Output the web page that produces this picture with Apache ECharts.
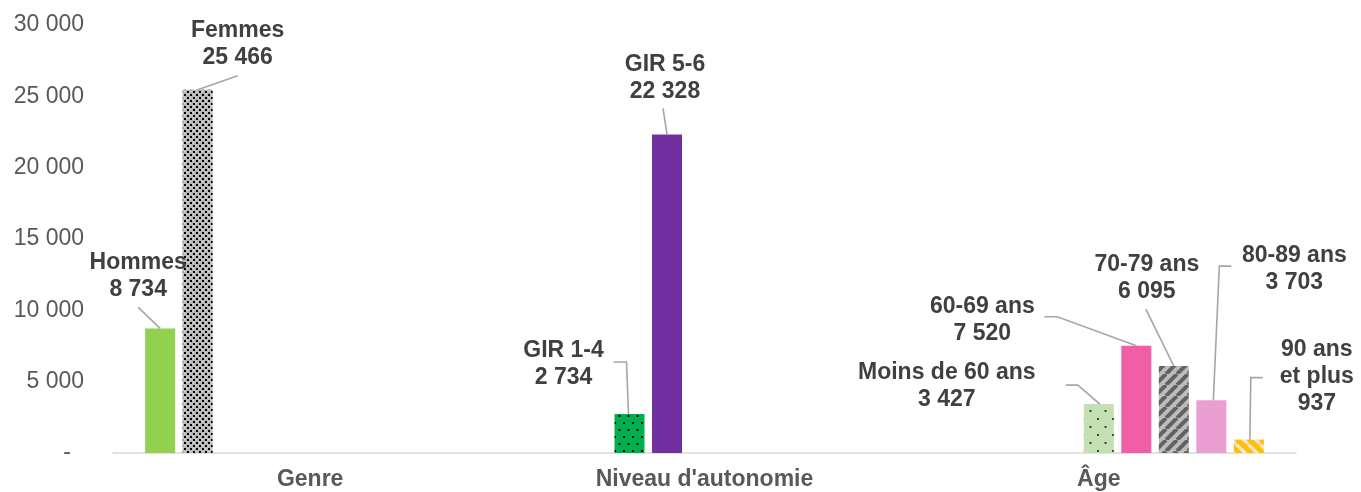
<!DOCTYPE html>
<html>
<head>
<meta charset="utf-8">
<script src="https://cdn.jsdelivr.net/npm/echarts@6/dist/echarts.min.js"></script>
<style>
  html, body { margin: 0; padding: 0; background: #ffffff; }
  #chart { width: 1361px; height: 492px; }
</style>
</head>
<body>
<div id="chart"></div>
<script>
// Categories on the x axis
const categories = ['Genre', "Niveau d'autonomie", '\u00c2ge'];

// One series per sub-group; each one only has a value in its own category
const seriesNames = ['Hommes', 'Femmes', 'GIR 1-4', 'GIR 5-6', 'Moins de 60 ans',
  '60-69 ans', '70-79 ans', '80-89 ans', '90 ans et plus'];
const seriesValues = [8734, 25466, 2734, 22328, 3427, 7520, 6095, 3703, 937];
const seriesCategory = [0, 0, 1, 1, 2, 2, 2, 2, 2];

// Label text shown above each bar (name, then value)
const labelNames = ['Hommes', 'Femmes', 'GIR 1-4', 'GIR 5-6', 'Moins de 60 ans',
  '60-69 ans', '70-79 ans', '80-89 ans', '90 ans\net plus'];

// Y axis scale
const yMin = 0, yMax = 30000, yStep = 5000;

// ---- styling ----
const BAR_W = 30;
const BAR_GAP = 0.25;
const SLOT = BAR_W * (1 + BAR_GAP);
const MID_SLOT = (seriesNames.length - 1) / 2;
const FONT = '"Liberation Sans", Arial, Helvetica, sans-serif';
const LABEL_COLOR = '#404040';
const AXIS_TEXT = '#595959';
const LEADER = '#a6a6a6';

// Label block centre and leader-line path, as pixel offsets from the bar top centre
const labelPlacement = [
  { dx: -22, dy: -52, line: [[-22, -21], [0, 0]] },
  { dx: 40, dy: -46, line: [[40, -14], [0, 0]] },
  { dx: -66, dy: -50, line: [[-16, -52], [-3, -52], [-1, 0]] },
  { dx: -2, dy: -56, line: [[-4, -26], [0, 0]] },
  { dx: -152, dy: -18, line: [[-33, -19], [-21, -19], [1, 0]] },
  { dx: -154, dy: -26, line: [[-92, -29], [-79, -29], [0, 0]] },
  { dx: -27, dy: -88, line: [[-28, -57], [0, 0]] },
  { dx: 83, dy: -131, line: [[20, -134], [8, -134], [2, 0]] },
  { dx: 68, dy: -63, line: [[14, -62], [2, -62], [1, 0]] }
];

function formatNumber(v) {
  return String(v).replace(/\B(?=(\d{3})+(?!\d))/g, ' ');
}

// ---- fill patterns ----
function makeTile(w, h, draw) {
  const c = document.createElement('canvas');
  c.width = w; c.height = h;
  draw(c.getContext('2d'), w, h);
  return { image: c, repeat: 'repeat' };
}
const dotsGrey = makeTile(6, 6, (ctx) => {
  ctx.fillStyle = '#b8b8b8'; ctx.fillRect(0, 0, 6, 6);
  ctx.fillStyle = '#000000';
  ctx.fillRect(1, 1, 2, 2); ctx.fillRect(4, 4, 2, 2);
  ctx.fillStyle = '#e2e2e2';
  ctx.fillRect(4, 1, 1, 1); ctx.fillRect(1, 4, 1, 1);
});
const dotsGreen = makeTile(9, 14, (ctx) => {
  ctx.fillStyle = '#00b050'; ctx.fillRect(0, 0, 9, 14);
  ctx.fillStyle = '#000000';
  ctx.fillRect(2, 2, 2, 2); ctx.fillRect(6.5, 9, 2, 2);
});
const dotsPale = makeTile(15, 16, (ctx) => {
  ctx.fillStyle = '#c5e0b4'; ctx.fillRect(0, 0, 15, 16);
  ctx.fillStyle = '#34501f';
  ctx.fillRect(2, 2, 2, 2); ctx.fillRect(9.5, 10, 2, 2);
});
function stripes(bg, fg, period, width, rising) {
  return makeTile(period, period, (ctx, w, h) => {
    ctx.fillStyle = bg; ctx.fillRect(0, 0, w, h);
    ctx.strokeStyle = fg; ctx.lineWidth = width;
    for (let k = -1; k <= 1; k++) {
      ctx.beginPath();
      if (rising) { ctx.moveTo(k * w, h); ctx.lineTo(k * w + w, 0); }
      else { ctx.moveTo(k * w, 0); ctx.lineTo(k * w + w, h); }
      ctx.stroke();
    }
  });
}
const stripesGrey = stripes('#bdbdbd', '#626262', 11, 4, true);
const stripesGold = stripes('#ffc000', '#fbe3cf', 12, 3.4, false);

const barFills = ['#92d050', dotsGrey, dotsGreen, '#7030a0', dotsPale,
  '#f05ea6', stripesGrey, '#ea9fd3', stripesGold];

// ---- series ----
const barSeries = seriesNames.map((name, i) => ({
  name: name,
  type: 'bar',
  barWidth: BAR_W,
  barGap: (BAR_GAP * 100) + '%',
  itemStyle: { color: barFills[i] },
  data: categories.map((c, k) => (k === seriesCategory[i] ? seriesValues[i] : '-')),
  silent: true
}));

const labelSeries = {
  type: 'custom',
  silent: true,
  z: 5,
  clip: false,
  encode: { x: 0, y: 1 },
  data: seriesValues.map((v, i) => [seriesCategory[i], v, i]),
  renderItem: function (params, api) {
    const i = api.value(2);
    const top = api.coord([api.value(0), api.value(1)]);
    const x = top[0] + (i - MID_SLOT) * SLOT;
    const y = top[1];
    const p = labelPlacement[i];
    return {
      type: 'group',
      children: [
        {
          type: 'polyline',
          shape: { points: p.line.map(pt => [x + pt[0], y + pt[1]]) },
          style: { stroke: LEADER, lineWidth: 1.6, fill: null }
        },
        {
          type: 'text',
          x: x + p.dx,
          y: y + p.dy,
          style: {
            text: labelNames[i] + '\n' + formatNumber(seriesValues[i]),
            fill: LABEL_COLOR,
            fontFamily: FONT,
            fontWeight: 'bold',
            fontSize: 23,
            lineHeight: 27,
            align: 'center',
            verticalAlign: 'middle'
          }
        }
      ]
    };
  }
};

const chart = echarts.init(document.getElementById('chart'), null, { renderer: 'canvas' });
chart.setOption({
  animation: false,
  backgroundColor: '#ffffff',
  grid: { left: 113, right: 65, top: 25, bottom: 39, containLabel: false },
  xAxis: {
    type: 'category',
    data: categories,
    axisTick: { show: false },
    axisLine: { lineStyle: { color: '#d9d9d9', width: 1.5 } },
    axisLabel: {
      color: AXIS_TEXT,
      fontFamily: FONT,
      fontWeight: 'bold',
      fontSize: 23,
      lineHeight: 24,
      margin: 15
    },
    splitLine: { show: false }
  },
  yAxis: {
    type: 'value',
    min: yMin,
    max: yMax,
    interval: yStep,
    axisLine: { show: false },
    axisTick: { show: false },
    splitLine: { show: false },
    axisLabel: {
      color: AXIS_TEXT,
      fontFamily: FONT,
      fontSize: 23,
      margin: 29,
      formatter: v => (v === 0 ? '{d|-}' : formatNumber(v)),
      rich: { d: { color: AXIS_TEXT, fontFamily: FONT, fontSize: 23, padding: [0, 13, 0, 0] } }
    }
  },
  series: barSeries.concat([labelSeries])
});
</script>
</body>
</html>
